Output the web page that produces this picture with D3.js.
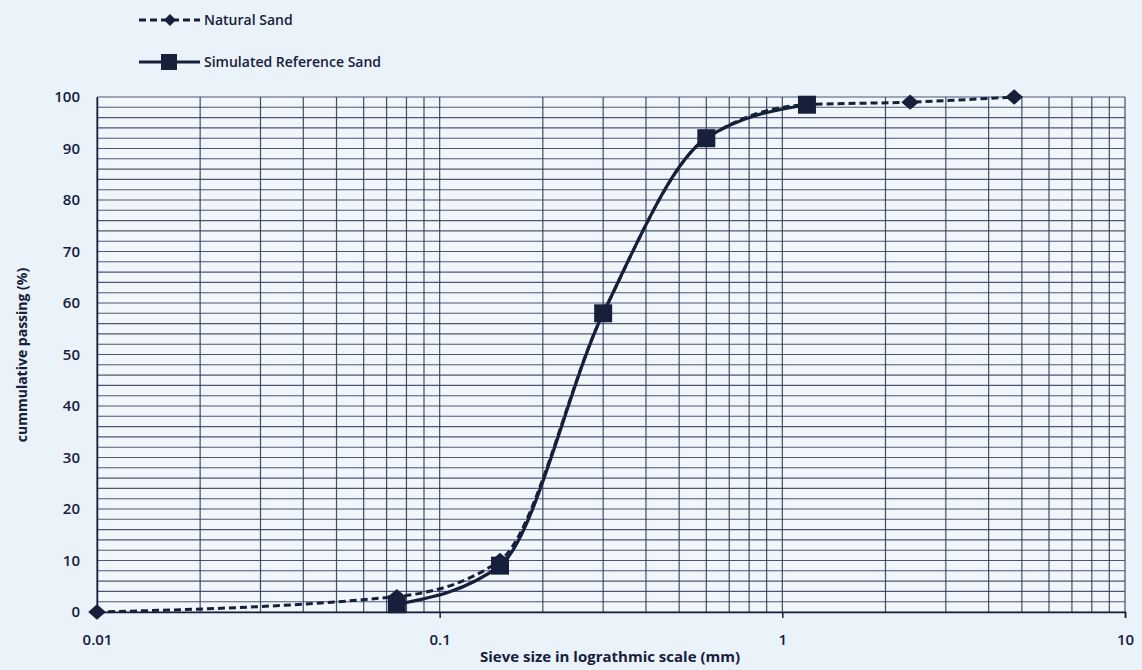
<!DOCTYPE html>
<html>
<head>
<meta charset="utf-8">
<script src="https://cdn.jsdelivr.net/npm/d3@7"></script>
<style>
  body { margin: 0; background: #eaf2fa; }
  svg { display: block; font-family: "Open Sans", "Liberation Sans", sans-serif; }
</style>
</head>
<body>
<div id="chart"></div>
<script>
// sieve sizes (mm) and cumulative passing (%)
var naturalSize = [0.01, 0.075, 0.15, 0.3, 0.6, 1.18, 2.36, 4.75];
var naturalPass = [0, 3, 10, 58, 92, 98.5, 99, 100];
var simSize = [0.075, 0.15, 0.3, 0.6, 1.18];
var simPass = [1.5, 9, 58, 92, 98.5];
var xTicks = [0.01, 0.1, 1, 10];
var xTickLabels = ["0.01", "0.1", "1", "10"];
var yTicks = [0, 10, 20, 30, 40, 50, 60, 70, 80, 90, 100];

var width = 1142, height = 670;
var plotLeft = 97, plotRight = 1125, plotTop = 97, plotBottom = 612;
var ink = "#16203a", gridCol = "#2f3d5c";

var svg = d3.select("#chart").append("svg")
	.attr("width", width)
	.attr("height", height);

var x = d3.scaleLog().domain([0.01, 10]).range([plotLeft, plotRight]);
var y = d3.scaleLinear().domain([0, 100]).range([plotBottom, plotTop]);

// plot background
svg.append("rect")
	.attr("x", plotLeft).attr("y", plotTop)
	.attr("width", plotRight - plotLeft).attr("height", plotBottom - plotTop)
	.attr("fill", "#f1f6fb");

// grid
var grid = svg.append("g").attr("class", "grid");
grid.selectAll("line.h")
	.data(d3.range(0, 101, 2))
	.enter().append("line")
	.attr("x1", plotLeft).attr("x2", plotRight)
	.attr("y1", function(d) { return y(d); })
	.attr("y2", function(d) { return y(d); })
	.attr("stroke", gridCol)
	.attr("stroke-width", 1.1)
	.attr("opacity", 0.85);

grid.selectAll("line.v")
	.data(x.ticks())
	.enter().append("line")
	.attr("x1", function(d) { return x(d); })
	.attr("x2", function(d) { return x(d); })
	.attr("y1", plotTop).attr("y2", plotBottom)
	.attr("stroke", gridCol)
	.attr("stroke-width", 1.2)
	.attr("opacity", 0.9);

// axes
var xAxis = d3.axisBottom(x)
	.tickValues(xTicks)
	.tickFormat(function(d, i) { return xTickLabels[i]; })
	.tickSize(6)
	.tickPadding(16);
var gx = svg.append("g")
	.attr("transform", "translate(0," + plotBottom + ")")
	.call(xAxis);

var yAxis = d3.axisLeft(y)
	.tickValues(yTicks)
	.tickSize(0)
	.tickPadding(17);
var gy = svg.append("g")
	.attr("transform", "translate(" + plotLeft + ",0)")
	.call(yAxis);

[gx, gy].forEach(function(g) {
	g.select(".domain").attr("stroke", ink).attr("stroke-width", 1.5);
	g.selectAll("line").attr("stroke", ink).attr("stroke-width", 1.5);
	g.selectAll("text")
		.attr("fill", ink)
		.attr("font-size", 15)
		.attr("font-weight", 600)
		.attr("font-family", "'Open Sans', sans-serif");
});

// axis titles
svg.append("text")
	.attr("x", 610).attr("y", 662)
	.attr("text-anchor", "middle")
	.attr("font-size", 15)
	.attr("font-weight", 700)
	.attr("fill", ink)
	.text("Sieve size in lograthmic scale (mm)");

svg.append("text")
	.attr("transform", "translate(27,355) rotate(-90)")
	.attr("text-anchor", "middle")
	.attr("font-size", 14)
	.attr("font-weight", 700)
	.attr("fill", ink)
	.text("cummulative passing (%)");

// series
var line = d3.line()
	.x(function(d) { return x(d[0]); })
	.y(function(d) { return y(d[1]); })
	.curve(d3.curveMonotoneX);

var natural = d3.zip(naturalSize, naturalPass);
var sim = d3.zip(simSize, simPass);

svg.append("path")
	.datum(natural)
	.attr("d", line)
	.attr("fill", "none")
	.attr("stroke", ink)
	.attr("stroke-width", 3)
	.attr("stroke-dasharray", "7,4");

svg.append("path")
	.datum(sim)
	.attr("d", line)
	.attr("fill", "none")
	.attr("stroke", ink)
	.attr("stroke-width", 3.2);

var diamond = d3.symbol().type(d3.symbolDiamond2).size(150);

svg.append("g").selectAll("path")
	.data(natural)
	.enter().append("path")
	.attr("d", diamond)
	.attr("transform", function(d) { return "translate(" + x(d[0]) + "," + y(d[1]) + ") scale(1.15,1)"; })
	.attr("fill", ink);

svg.append("g").selectAll("rect")
	.data(sim)
	.enter().append("rect")
	.attr("x", function(d) { return x(d[0]) - 9; })
	.attr("y", function(d) { return y(d[1]) - 9; })
	.attr("width", 18).attr("height", 18)
	.attr("fill", ink);

// legend
var legend = svg.append("g").attr("class", "legend");
var legendItems = [
	{ name: "Natural Sand", dash: "7,4", mark: "diamond", yy: 20 },
	{ name: "Simulated Reference Sand", dash: null, mark: "square", yy: 62 }
];
legendItems.forEach(function(it) {
	legend.append("line")
		.attr("x1", 139).attr("x2", 200)
		.attr("y1", it.yy).attr("y2", it.yy)
		.attr("stroke", ink)
		.attr("stroke-width", 3)
		.attr("stroke-dasharray", it.dash);
	if (it.mark == "diamond") {
		legend.append("path")
			.attr("d", d3.symbol().type(d3.symbolDiamond2).size(90))
			.attr("transform", "translate(170," + it.yy + ")")
			.attr("fill", ink);
	} else {
		legend.append("rect")
			.attr("x", 161).attr("y", it.yy - 8)
			.attr("width", 16).attr("height", 16)
			.attr("fill", ink);
	}
	legend.append("text")
		.attr("x", 204).attr("y", it.yy + 5)
		.attr("font-size", 14)
		.attr("font-weight", 600)
		.attr("fill", ink)
		.text(it.name);
});
</script>
</body>
</html>
